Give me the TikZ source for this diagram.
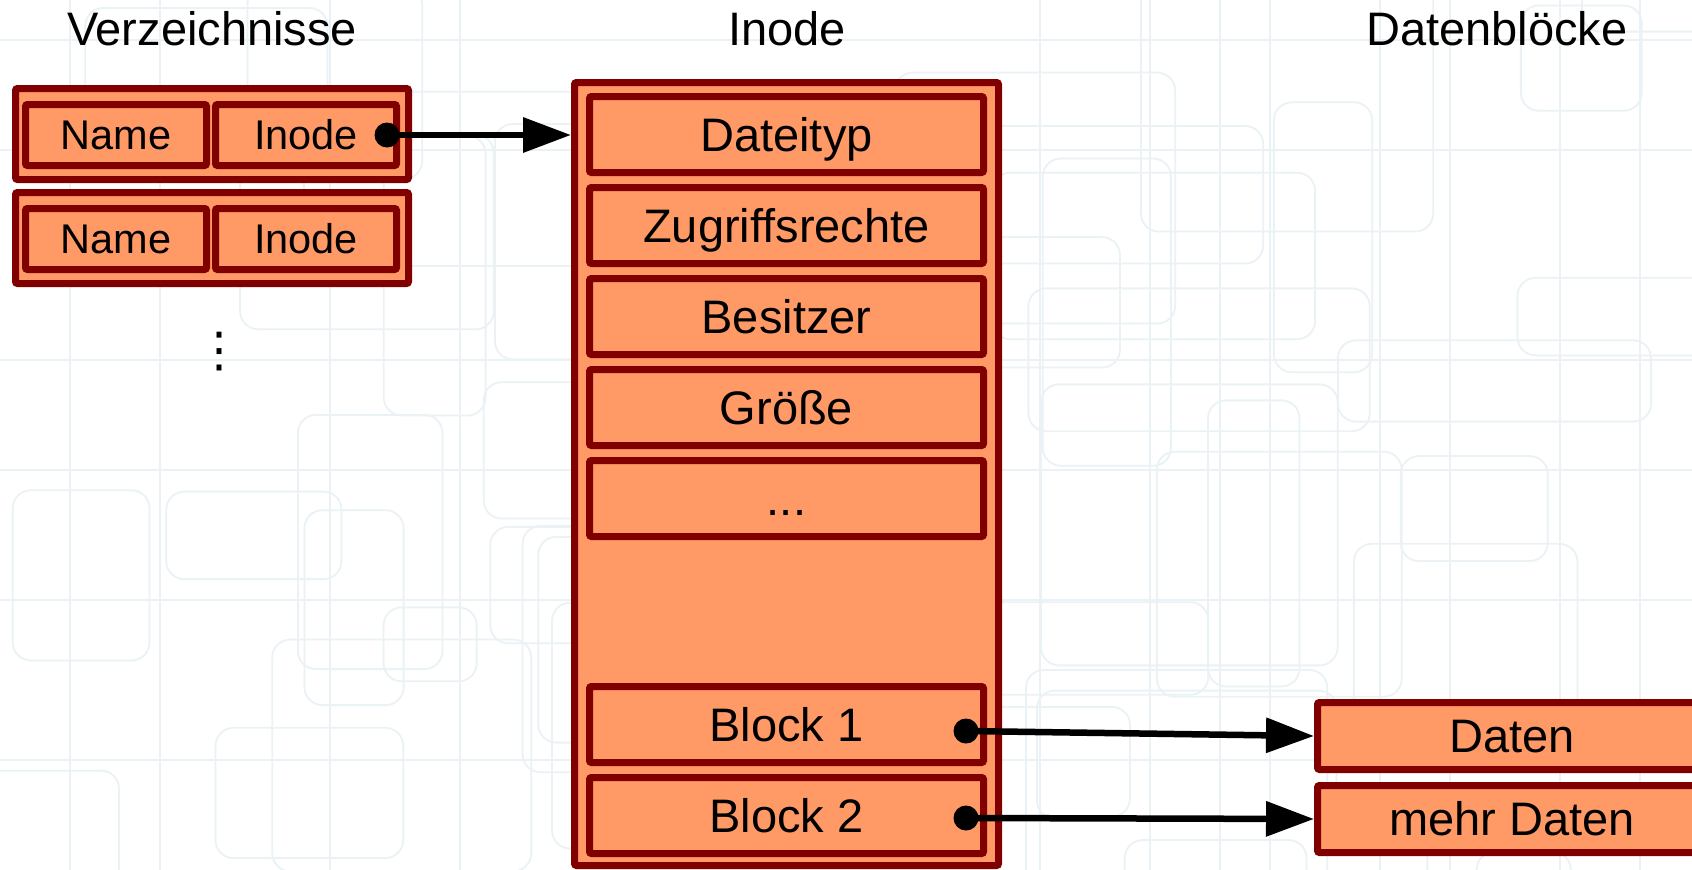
\documentclass[tikz,border=0pt]{standalone}
\usepackage{fontspec}
\setmainfont{Liberation Sans}
\newfontfamily\symfont{DejaVu Sans}
\usetikzlibrary{arrows.meta}
\definecolor{boxfill}{RGB}{255,153,102}
\definecolor{boxline}{RGB}{128,0,0}
\definecolor{bgline}{RGB}{234,242,246}
\begin{document}
\begin{tikzpicture}[x=1pt,y=-1pt,
  box/.style={draw=boxline, fill=boxfill, line width=7pt, rounded corners=2pt, inner sep=0pt, text depth=0pt},
  big/.style={font=\fontsize{47}{56}\selectfont, text height=33.6pt},
  small/.style={font=\fontsize{41.5}{50}\selectfont, text height=29.7pt},
  link/.style={line width=6.5pt, -{Triangle[length=48pt,width=34pt]}},
  dot/.style={fill=black},
  bg/.style={draw=bgline, line width=1.8pt, rounded corners=18pt},
]
\useasboundingbox (0,0) rectangle (1692,870);
\begin{scope}
\clip (0,0) rectangle (1692,870);
\fill[white] (0,0) rectangle (1692,870);
% faint background texture
\pgfmathsetseed{11}
\foreach \i in {1,...,46}{
  \pgfmathsetmacro\xa{rnd*1800-60}
  \pgfmathsetmacro\ya{rnd*950-60}
  \pgfmathsetmacro\wa{90+rnd*260}
  \pgfmathsetmacro\ha{70+rnd*260}
  \draw[bg] (\xa,\ya) rectangle ++(\wa,\ha);
}
\foreach \x in {70,160,330,460,1040,1150,1220,1270,1380,1450,1560,1640}{
  \draw[bgline, line width=1.6pt] (\x,0) -- (\x,870);
}
\foreach \y in {40,150,360,470,600,760}{
  \draw[bgline, line width=1.6pt] (0,\y) -- (1692,\y);
}

% titles
\node[font=\fontsize{47}{56}\selectfont] (tdir) at (212,29) {Verzeichnisse};
\node[font=\fontsize{47}{56}\selectfont] (tino) at (787,29) {Inode};
\node[font=\fontsize{47}{56}\selectfont] (tdat) at (1497,29) {Datenblöcke};

% directory entries
\node[box, minimum width=393pt, minimum height=91pt] (e1) at (212,134) {};
\node[box, small, minimum width=181pt, minimum height=61pt] (n1) at (116,135) {Name};
\node[box, small, minimum width=181pt, minimum height=61pt] (i1) at (306,135) {Inode};
\node[box, minimum width=393pt, minimum height=91pt] (e2) at (212,238) {};
\node[box, small, minimum width=181pt, minimum height=61pt] (n2) at (116,239) {Name};
\node[box, small, minimum width=181pt, minimum height=61pt] (i2) at (306,239) {Inode};
\node[font=\symfont\fontsize{48}{56}\selectfont, inner sep=0pt] (vd) at (219,352) {⋮};

% inode
\node[box, minimum width=424pt, minimum height=783pt] (inode) at (786.5,474) {};
\node[box, big, minimum width=394pt, minimum height=76pt] (f1) at (786.5,134.5) {Dateityp};
\node[box, big, minimum width=394pt, minimum height=76pt] (f2) at (786.5,225.5) {Zugriffsrechte};
\node[box, big, minimum width=394pt, minimum height=76pt] (f3) at (786.5,316.5) {Besitzer};
\node[box, big, minimum width=394pt, minimum height=76pt] (f4) at (786.5,407.5) {Größe};
\node[box, big, minimum width=394pt, minimum height=76pt] (f5) at (786.5,498.5) {...};
\node[box, big, minimum width=394pt, minimum height=76pt] (b1) at (786.5,724.5) {Block 1};
\node[box, big, minimum width=394pt, minimum height=76pt] (b2) at (786.5,815.5) {Block 2};

% data blocks
\node[box, big, minimum width=389pt, minimum height=67pt] (d1) at (1512,736) {Daten};
\node[box, big, minimum width=389pt, minimum height=67pt] (d2) at (1512,819) {mehr Daten};

% connectors
\coordinate (p0) at (387,135);
\coordinate (p1) at (966,731);
\coordinate (p2) at (966,818);
\draw[link] (p0) -- (p0 -| inode.west);
\fill[dot] (p0) circle (12.5pt);
\draw[link] (p1) -- (d1.west);
\fill[dot] (p1) circle (12.5pt);
\draw[link] (p2) -- (d2.west);
\fill[dot] (p2) circle (12.5pt);
\end{scope}
\end{tikzpicture}
\end{document}
